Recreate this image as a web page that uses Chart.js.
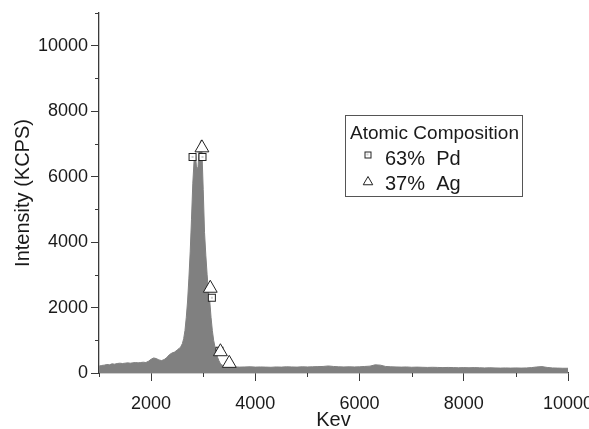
<!DOCTYPE html>
<html>
<head>
<meta charset="utf-8">
<title>EDS spectrum</title>
<script src="https://cdn.jsdelivr.net/npm/chart.js@4.4.1/dist/chart.umd.min.js"></script>
<style>
  html, body { margin: 0; padding: 0; background: #fff; }
  #wrap { width: 589px; height: 429px; }
</style>
</head>
<body>
<div id="wrap"><canvas id="edsChart" width="589" height="429"></canvas></div>
<script>
// spectrum, energy (keV axis label as in the original plot) vs counts
const spectrumKev = [
  1000, 1050, 1100, 1150, 1200, 1250, 1300, 1350, 1400, 1450,
  1500, 1550, 1600, 1650, 1700, 1750, 1800, 1850, 1900, 1950,
  2000, 2050, 2100, 2150, 2200, 2250, 2300, 2350, 2400, 2450,
  2500, 2525, 2550, 2575, 2600, 2625, 2650, 2675, 2700, 2725,
  2750, 2775, 2800, 2825, 2850, 2875, 2900, 2925, 2950, 2975,
  3000, 3025, 3050, 3075, 3100, 3125, 3150, 3175, 3200, 3225,
  3250, 3275, 3300, 3325, 3350, 3375, 3400, 3425, 3450, 3475,
  3500, 3600, 3700, 3800, 3900, 4000, 4100, 4200, 4300, 4400,
  4500, 4600, 4700, 4800, 4900, 5000, 5100, 5200, 5300, 5400,
  5500, 5600, 5700, 5800, 5900, 6000, 6100, 6200, 6300, 6400,
  6500, 6600, 6700, 6800, 6900, 7000, 7100, 7200, 7300, 7400,
  7500, 7600, 7700, 7800, 7900, 8000, 8100, 8200, 8300, 8400,
  8500, 8600, 8700, 8800, 8900, 9000, 9100, 9200, 9300, 9400,
  9500, 9600, 9700, 9800, 9900, 10000
];
const spectrumCounts = [
  210, 230, 240, 260, 250, 280, 270, 290, 300, 290,
  300, 310, 300, 310, 320, 310, 320, 330, 320, 360,
  420, 460, 440, 400, 380, 410, 470, 560, 610, 640,
  700, 740, 760, 820, 900, 1050, 1300, 1700, 2200, 2900,
  3700, 4700, 5800, 6500, 6700, 6200, 6300, 6900, 7100, 6800,
  5600, 4300, 3600, 3000, 2500, 2200, 1700, 1300, 1000, 800,
  620, 480, 380, 300, 260, 230, 210, 200, 195, 190,
  190, 185, 180, 185, 190, 180, 185, 180, 175, 185,
  180, 190, 185, 180, 190, 185, 190, 195, 200, 215,
  200, 190, 185, 190, 185, 190, 200, 210, 250, 240,
  200, 190, 185, 180, 185, 175, 180, 175, 170, 175,
  170, 165, 170, 165, 160, 165, 160, 165, 160, 155,
  160, 155, 150, 155, 150, 155, 150, 155, 165, 185,
  195, 170, 155, 150, 145, 145
];

// fitted composition markers
const pdKev = [2795, 2985, 3165, 3310];
const pdCounts = [6600, 6600, 2300, 680];
const agKev = [2975, 3135, 3330, 3500];
const agCounts = [6880, 2590, 650, 295];

const seriesLabels = ['63% Pd', '37% Ag'];
const legendTitle = 'Atomic Composition';

const xTickLabels = [2000, 4000, 6000, 8000, 10000];
const yTickLabels = [0, 2000, 4000, 6000, 8000, 10000];

const axisColor = '#3a3a3a';
const fillGray = '#808080';
const fontFamily = '"Liberation Sans", Arial, Helvetica, sans-serif';

// square marker with a dot in the middle
function makeDotSquare(side) {
  const c = document.createElement('canvas');
  c.width = side + 2;
  c.height = side + 2;
  const g = c.getContext('2d');
  g.fillStyle = '#fff';
  g.fillRect(1, 1, side, side);
  g.strokeStyle = '#222';
  g.lineWidth = 1;
  g.strokeRect(1.5, 1.5, side - 1, side - 1);
  g.fillStyle = '#444';
  g.fillRect(Math.floor(c.width / 2) - 0.5, Math.floor(c.height / 2) - 0.5, 1, 1);
  return c;
}
const squareMark = makeDotSquare(8);
const squareMarkSmall = makeDotSquare(7);

function toPoints(xs, ys) {
  return xs.map((x, i) => ({ x, y: ys[i] }));
}

// short unlabeled ticks between the labelled ones
const minorTicks = {
  id: 'minorTicks',
  afterDraw(chart) {
    const { ctx } = chart;
    const xs = chart.scales.x;
    const ys = chart.scales.y;
    ctx.save();
    ctx.strokeStyle = axisColor;
    ctx.lineWidth = 1;
    ctx.beginPath();
    xs.ticks.forEach(t => {
      if (xTickLabels.includes(t.value)) return;
      const px = Math.round(xs.getPixelForValue(t.value)) + 0.5;
      ctx.moveTo(px, xs.top);
      ctx.lineTo(px, xs.top + 4);
    });
    ys.ticks.forEach(t => {
      if (yTickLabels.includes(t.value)) return;
      const py = Math.round(ys.getPixelForValue(t.value)) + 0.5;
      ctx.moveTo(ys.right, py);
      ctx.lineTo(ys.right - 4, py);
    });
    ctx.stroke();
    ctx.restore();
  }
};

// boxed legend with a title line
const boxLegend = {
  id: 'boxLegend',
  afterDraw(chart) {
    const { ctx } = chart;
    const left = 345, top = 115, right = 522, bottom = 196;
    ctx.save();
    ctx.strokeStyle = '#555';
    ctx.lineWidth = 1;
    ctx.strokeRect(left + 0.5, top + 0.5, right - left, bottom - top);
    ctx.fillStyle = '#1a1a1a';
    ctx.textBaseline = 'alphabetic';
    ctx.textAlign = 'left';
    ctx.font = '19px ' + fontFamily;
    ctx.fillText(legendTitle, left + 5, top + 24);
    ctx.font = '20px ' + fontFamily;
    ctx.fillText(seriesLabels[0].replace(' ', '  '), left + 40, top + 50);
    ctx.fillText(seriesLabels[1].replace(' ', '  '), left + 40, top + 75);
    ctx.drawImage(squareMarkSmall, left + 23 - squareMarkSmall.width / 2, top + 40 - squareMarkSmall.height / 2);
    ctx.fillStyle = '#fff';
    ctx.strokeStyle = '#222';
    ctx.lineWidth = 1;
    Chart.helpers.drawPoint(ctx, {
      pointStyle: 'triangle', radius: 5.5, rotation: 0, borderWidth: 1
    }, left + 23, top + 67);
    ctx.restore();
  }
};

new Chart(document.getElementById('edsChart'), {
  type: 'line',
  data: {
    datasets: [
      {
        label: 'spectrum',
        data: toPoints(spectrumKev, spectrumCounts),
        borderColor: fillGray,
        backgroundColor: fillGray,
        borderWidth: 1,
        pointRadius: 0,
        fill: 'origin',
        tension: 0,
        order: 3
      },
      {
        label: seriesLabels[0],
        data: toPoints(pdKev, pdCounts),
        showLine: false,
        pointStyle: squareMark,
        pointRadius: 5,
        order: 2
      },
      {
        label: seriesLabels[1],
        data: toPoints(agKev, agCounts),
        showLine: false,
        pointStyle: 'triangle',
        pointRadius: 8,
        pointBackgroundColor: '#fff',
        pointBorderColor: '#222',
        pointBorderWidth: 1,
        order: 1
      }
    ]
  },
  options: {
    responsive: false,
    animation: false,
    layout: { padding: { top: 13, right: 21, left: 0, bottom: 0 } },
    plugins: {
      legend: { display: false },
      tooltip: { enabled: false }
    },
    scales: {
      x: {
        type: 'linear',
        min: 1000,
        max: 10000,
        border: { display: true, color: axisColor, width: 1.3 },
        grid: {
          drawOnChartArea: false,
          tickLength: 8,
          tickWidth: 1,
          tickColor: ctx => xTickLabels.includes(ctx.tick.value) ? axisColor : 'rgba(0,0,0,0)'
        },
        ticks: {
          stepSize: 1000,
          autoSkip: false,
          maxRotation: 0,
          padding: 12,
          color: '#1a1a1a',
          font: { family: fontFamily, size: 18 },
          callback: v => xTickLabels.includes(v) ? String(v) : ''
        },
        title: {
          display: true,
          text: 'Kev',
          color: '#1a1a1a',
          font: { family: fontFamily, size: 20 },
          padding: { top: 0, bottom: -3 }
        },
        afterFit: s => {
          s.height = 56;
          s.paddingLeft = 0;
          s.paddingRight = 0;
        }
      },
      y: {
        min: 0,
        max: 11000,
        border: { display: true, color: axisColor, width: 1.3 },
        grid: {
          drawOnChartArea: false,
          tickLength: 8,
          tickWidth: 1,
          tickColor: ctx => yTickLabels.includes(ctx.tick.value) ? axisColor : 'rgba(0,0,0,0)'
        },
        ticks: {
          stepSize: 1000,
          autoSkip: false,
          padding: 3,
          color: '#1a1a1a',
          font: { family: fontFamily, size: 18 },
          callback: v => yTickLabels.includes(v) ? String(v) : ''
        },
        title: {
          display: true,
          text: 'Intensity (KCPS)',
          color: '#1a1a1a',
          font: { family: fontFamily, size: 20 },
          padding: { top: 11, bottom: 0 }
        },
        afterFit: s => {
          s.width = 99;
          s.paddingTop = 0;
          s.paddingBottom = 0;
        }
      }
    }
  },
  plugins: [minorTicks, boxLegend]
});
</script>
</body>
</html>
